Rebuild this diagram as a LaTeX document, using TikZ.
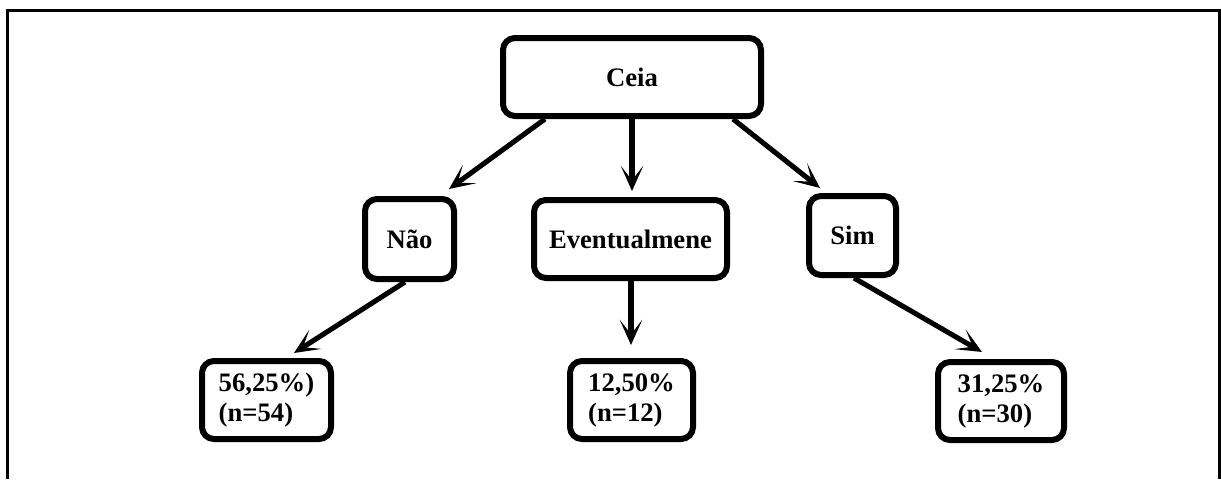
\documentclass[tikz,border=0pt]{standalone}
\usepackage{fontspec}
\setmainfont{Liberation Serif}
\usetikzlibrary{calc,arrows.meta}
\begin{document}
\begin{tikzpicture}[x=0.75pt,y=-0.75pt,
  box/.style={draw=black,line width=4.5pt,rounded corners=9pt,fill=white,
    inner sep=0pt,align=center,font=\fontsize{20}{22.5}\selectfont\bfseries},
  res/.style={box,align=left},
  arr/.style={line width=3.8pt,-{Stealth[length=19pt,width=17pt,inset=11pt]}},
  frame/.style={line width=2.25pt,draw=black}]
  \useasboundingbox (0,0) rectangle (1221,479);
  % open frame around the tree
  \draw[frame] (7.5,479) -- (7.5,10) -- (1219.5,10) -- (1219.5,479);
  % root
  \node[box,minimum width=193.5pt,minimum height=58.5pt] (ceia) at (632,77) {Ceia};
  % answers
  \node[box,minimum width=66.75pt,minimum height=60pt] (nao) at (409.5,239) {Não};
  \node[box,minimum width=144.75pt,minimum height=58.5pt] (ev) at (630.5,239) {Eventualmene};
  \node[box,minimum width=65.25pt,minimum height=59.25pt] (sim) at (852.5,235.5) {Sim};
  % results
  \node[res,minimum width=96.75pt,minimum height=58.5pt] (r56) at (266.5,400) {56,25\%)\\(n=54)};
  \node[res,minimum width=92.25pt,minimum height=58.5pt] (r12) at (631.5,400) {12,50\%\\(n=12)};
  \node[res,minimum width=94.5pt,minimum height=58.5pt] (r31) at (1001,401) {31,25\%\\(n=30)};
  % connectors
  \draw[arr] ($(ceia.south)+(-87,0)$) -- ($(nao.north)+(39.5,-7)$);
  \draw[arr] (ceia.south) -- ($(ev.north)+(1.5,-6)$);
  \draw[arr] ($(ceia.south)+(101,0)$) -- ($(sim.north)+(-32.5,-5)$);
  \draw[arr] ($(nao.south)+(-4.5,0)$) -- ($(r56.north)+(27.5,-5)$);
  \draw[arr] ($(ev.south)+(0.5,0)$) -- ($(r12.north)+(-0.5,-13)$);
  \draw[arr] ($(sim.south)+(1.5,0)$) -- ($(r31.north)+(-19,-7)$);
\end{tikzpicture}
\end{document}
